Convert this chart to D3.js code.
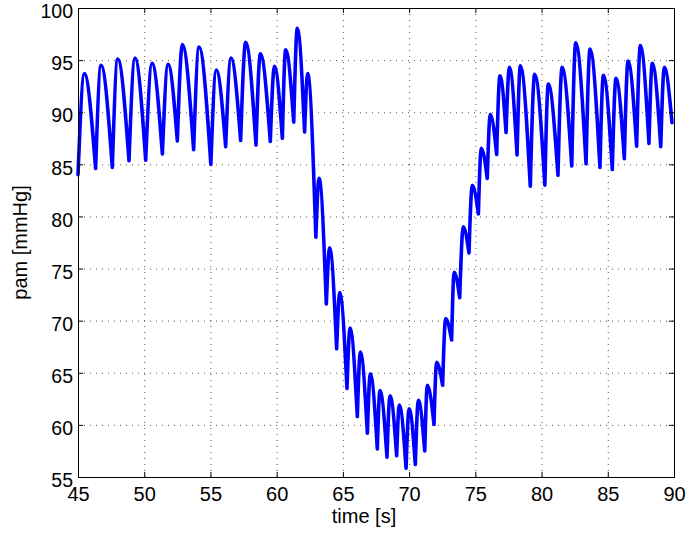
<!DOCTYPE html>
<html>
<head>
<meta charset="utf-8">
<script src="https://cdn.jsdelivr.net/npm/d3@7"></script>
<style>
    body { margin: 0; background: #fff; }
    svg { display: block; font-family: Helvetica, Arial, 'Liberation Sans', sans-serif; }
    .axis text { font-size: 20px; fill: #000; }
    .axis-y text { font-size: 19.5px; }
    .axis line { stroke: #000; }
    .axis .domain { display: none; }
    .grid line { stroke: #555; stroke-width: 1; stroke-dasharray: 1,5; }
    .label { font-size: 20px; fill: #000; }
</style>
</head>
<body>
<div id="chart"></div>
<script>

// beat extrema: first sample, then alternating peak / trough, last sample
const time = [
    45.0, 45.48, 46.33, 46.74, 47.59, 48.0, 48.85, 49.30, 50.11, 50.59,
    51.37, 51.80, 52.50, 52.88, 53.73, 54.14, 55.03, 55.44, 56.15, 56.55,
    57.28, 57.66, 58.44, 58.77, 59.52, 59.83, 60.43, 60.68, 61.29, 61.56,
    62.11, 62.34, 62.96, 63.20, 63.75, 64.0, 64.53, 64.76, 65.31, 65.54,
    66.09, 66.32, 66.85, 67.07, 67.6, 67.8, 68.33, 68.56, 69.06, 69.26,
    69.77, 70.0, 70.47, 70.7, 71.18, 71.38, 71.88, 72.08, 72.53, 72.76,
    73.21, 73.4, 73.82, 74.09, 74.52, 74.77, 75.23, 75.45, 75.9, 76.13,
    76.61, 76.86, 77.32, 77.57, 78.15, 78.4, 79.15, 79.48, 80.25, 80.51,
    81.24, 81.55, 82.28, 82.58, 83.36, 83.66, 84.41, 84.67, 85.34, 85.62,
    86.25, 86.53, 87.18, 87.46, 88.11, 88.36, 89.0, 89.27, 89.85
];
const pam = [
    84.0, 93.7, 84.6, 94.5, 84.7, 95.1, 85.35, 95.2, 85.4, 94.7,
    86.0, 94.6, 87.25, 96.5, 86.4, 96.25, 85.0, 94.05, 86.7, 95.2,
    87.3, 96.7, 86.85, 95.6, 87.2, 94.4, 87.5, 96.0, 89.06, 98.05,
    88.1, 93.7, 78.0, 83.66, 71.6, 77.0, 67.3, 72.7, 63.5, 69.3,
    60.8, 67.0, 59.2, 64.9, 57.7, 63.3, 56.9, 62.8, 57.05, 61.9,
    55.85, 61.55, 56.2, 62.35, 57.5, 63.8, 60.05, 66.0, 63.8, 70.2,
    68.15, 74.65, 72.2, 79.0, 76.5, 83.0, 80.25, 86.55, 83.65, 89.8,
    85.95, 93.5, 88.05, 94.3, 85.9, 94.45, 82.9, 93.65, 83.0, 92.7,
    83.95, 94.3, 84.85, 96.65, 85.05, 96.05, 84.7, 93.55, 84.5, 93.25,
    85.55, 94.9, 86.75, 96.4, 87.0, 94.7, 86.7, 94.3, 89.0
];

const xTicks = [45, 50, 55, 60, 65, 70, 75, 80, 85, 90];
const yTicks = [55, 60, 65, 70, 75, 80, 85, 90, 95, 100];

const xTitle = 'time [s]';
const yTitle = 'pam [mmHg]';

// layout
const width = 686;
const height = 533;
const margin = {t: 8, r: 12, b: 56, l: 78};
const w = width - (margin.l + margin.r);
const h = height - (margin.t + margin.b);

const svg = d3.select('#chart')
    .append('svg')
    .attr('width', width)
    .attr('height', height);

const plot = svg.append('g')
    .attr('transform', `translate(${margin.l},${margin.t})`);

// scales
const scaleX = d3.scaleLinear()
    .domain([45, 90])
    .range([0, w]);
const scaleY = d3.scaleLinear()
    .domain([55, 100])
    .range([h, 0]);

// dotted grid, skipping the ones that sit on the frame
plot.append('g')
    .attr('class', 'grid')
    .selectAll('line.gx')
    .data(xTicks.slice(1, -1))
    .enter()
    .append('line')
    .attr('x1', d => scaleX(d) + 0.5)
    .attr('x2', d => scaleX(d) + 0.5)
    .attr('y1', 0)
    .attr('y2', h);

plot.append('g')
    .attr('class', 'grid')
    .selectAll('line.gy')
    .data(yTicks.slice(1, -1))
    .enter()
    .append('line')
    .attr('x1', 0)
    .attr('x2', w)
    .attr('y1', d => scaleY(d) + 0.5)
    .attr('y2', d => scaleY(d) + 0.5);

// the trace: every beat (trough-peak-trough) is its own monotone piece,
// so the troughs stay sharp like in the original
const pts = time.map((t, i) => ({t: t, p: pam[i]}));
const beats = [];
for (let i = 0; i < pts.length - 1; i += 2) {
    beats.push(pts.slice(i, i + 3));
}

const line = d3.line()
    .x(d => scaleX(d.t))
    .y(d => scaleY(d.p))
    .curve(d3.curveMonotoneX);

plot.append('path')
    .attr('d', beats.map(b => line(b)).join(''))
    .attr('fill', 'none')
    .attr('stroke', '#0000ff')
    .attr('stroke-width', 3.6)
    .attr('stroke-linecap', 'round')
    .attr('stroke-linejoin', 'round');

// axes, matlab style: ticks pointing inwards on all four sides
const axisBottom = d3.axisBottom(scaleX)
    .tickValues(xTicks)
    .tickSizeInner(-5)
    .tickSizeOuter(0)
    .tickPadding(10);
const axisTop = d3.axisTop(scaleX)
    .tickValues(xTicks)
    .tickSizeInner(-5)
    .tickSizeOuter(0)
    .tickFormat('');
const axisLeft = d3.axisLeft(scaleY)
    .tickValues(yTicks)
    .tickSizeInner(-5)
    .tickSizeOuter(0)
    .tickPadding(5);
const axisRight = d3.axisRight(scaleY)
    .tickValues(yTicks)
    .tickSizeInner(-5)
    .tickSizeOuter(0)
    .tickFormat('');

plot.append('g')
    .attr('class', 'axis axis-x')
    .attr('transform', `translate(0,${h})`)
    .call(axisBottom);
plot.append('g')
    .attr('class', 'axis')
    .call(axisTop);
const axisYNode = plot.append('g')
    .attr('class', 'axis axis-y')
    .call(axisLeft);
// labels sit a touch below their tick, so the top one stays on the page
axisYNode.selectAll('text')
    .attr('dy', '0.5em');
plot.append('g')
    .attr('class', 'axis')
    .attr('transform', `translate(${w},0)`)
    .call(axisRight);

// frame
plot.append('rect')
    .attr('x', 0.5)
    .attr('y', 0.5)
    .attr('width', w)
    .attr('height', h)
    .attr('fill', 'none')
    .attr('stroke', '#000')
    .attr('stroke-width', 1);

// titles
svg.append('text')
    .attr('class', 'label')
    .attr('x', 364)
    .attr('y', 523)
    .attr('text-anchor', 'middle')
    .text(xTitle);

svg.append('text')
    .attr('class', 'label')
    .attr('transform', `translate(27,${margin.t + h / 2}) rotate(-90)`)
    .attr('text-anchor', 'middle')
    .text(yTitle);

</script>
</body>
</html>
